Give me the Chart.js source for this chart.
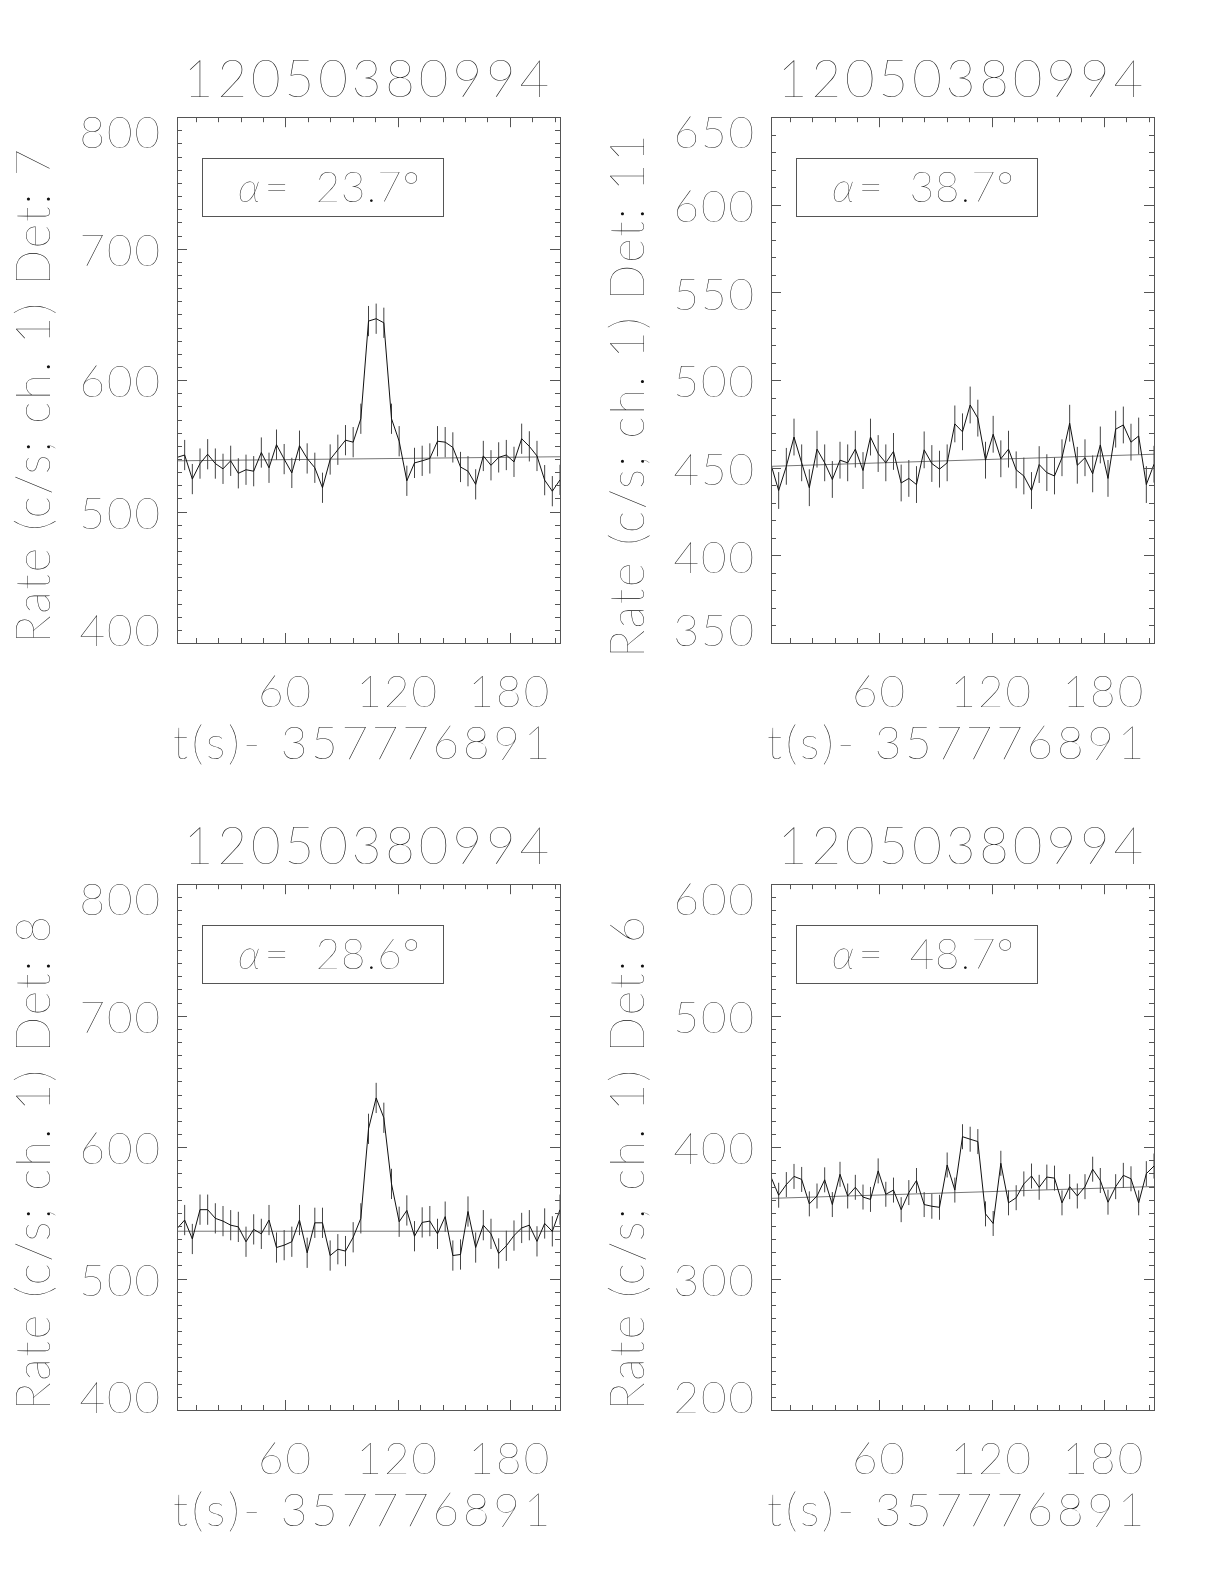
<!DOCTYPE html>
<html>
<head>
<meta charset="utf-8">
<script src="https://cdn.jsdelivr.net/npm/chart.js@4.4.1/dist/chart.umd.min.js"></script>
<style>
    body { margin: 0; background: #fff; width: 1224px; height: 1584px; position: relative; overflow: hidden; }
    canvas { position: absolute; }
</style>
</head>
<body>
<canvas id="c0" width="594" height="767" style="left:0;top:0"></canvas>
<canvas id="c1" width="594" height="767" style="left:594px;top:0"></canvas>
<canvas id="c2" width="594" height="767" style="left:0;top:767px"></canvas>
<canvas id="c3" width="594" height="767" style="left:594px;top:767px"></canvas>
<script>
// Data (t in s - 357776891, rates in c/s)
const burstName = '12050380994';
const xTitle = 't(s)- 357776891';
const detectors = [7, 11, 8, 6];
const alphaValues = ['23.7', '38.7', '28.6', '48.7'];

const times = [2.0, 6.1, 10.2, 14.3, 18.4, 22.5, 26.6, 30.7, 34.8, 38.9,
    43.0, 47.1, 51.2, 55.2, 59.3, 63.4, 67.5, 71.6, 75.7, 79.8,
    83.9, 88.0, 92.1, 96.2, 100.3, 104.4, 108.5, 112.6, 116.7, 120.8,
    124.9, 129.0, 133.1, 137.2, 141.3, 145.4, 149.5, 153.6, 157.6, 161.7,
    165.8, 169.9, 174.0, 178.1, 182.2, 186.3, 190.4, 194.5, 198.6, 202.7, 206.8];

const rateDet7 = [541.2, 543.0, 524.7, 536.5, 543.6, 536.5, 532.5, 538.6, 529.1, 531.8,
    530.7, 544.9, 533.3, 550.9, 539.9, 529.4, 550.1, 540.4, 533.3, 518.1,
    539.6, 547.0, 554.3, 552.8, 570.6, 644.9, 646.7, 643.6, 570.6, 553.5,
    523.4, 537.0, 538.6, 540.4, 553.5, 552.8, 548.8, 533.9, 530.7, 520.7,
    542.3, 535.2, 541.2, 543.0, 537.8, 555.4, 549.6, 542.3, 523.9, 515.5, 524.1];
const rateDet11 = [451.8, 437.0, 450.8, 467.5, 452.8, 438.6, 460.6, 452.8, 443.3, 454.3,
    452.8, 460.6, 448.4, 467.5, 458.1, 452.8, 459.3, 441.3, 443.9, 440.4,
    460.2, 452.4, 449.2, 452.8, 475.0, 470.5, 485.8, 478.3, 454.3, 469.1,
    455.1, 460.6, 448.8, 445.3, 437.0, 451.8, 447.2, 445.3, 455.7, 475.4,
    451.4, 455.7, 446.5, 463.0, 443.9, 472.0, 474.4, 464.6, 468.1, 440.4, 452.0];
const rateDet8 = [538.0, 544.5, 530.1, 552.4, 552.4, 545.8, 543.7, 540.6, 539.3, 528.0,
    537.4, 534.0, 544.5, 523.6, 525.4, 528.0, 544.5, 519.6, 542.4, 542.4,
    517.5, 522.3, 520.9, 531.4, 545.8, 613.9, 637.4, 622.3, 572.0, 543.2,
    551.8, 532.2, 542.7, 543.7, 534.0, 547.1, 517.5, 518.3, 551.0, 523.6,
    540.6, 534.0, 519.1, 524.9, 532.7, 538.5, 540.6, 528.3, 541.9, 535.9, 552.4];
const rateDet6 = [377.2, 363.4, 371.5, 377.7, 375.4, 356.8, 362.8, 375.1, 356.3, 379.3,
    362.8, 369.4, 362.0, 360.2, 381.9, 364.1, 367.3, 352.4, 365.4, 374.6,
    356.3, 355.0, 354.2, 386.4, 367.3, 407.9, 406.0, 404.2, 349.2, 341.9,
    387.7, 357.6, 361.5, 372.0, 378.0, 369.4, 377.2, 376.4, 357.6, 369.9,
    362.8, 369.9, 383.2, 374.6, 358.1, 369.9, 378.5, 375.9, 357.6, 379.8, 385.6];
const rates = [rateDet7, rateDet11, rateDet8, rateDet6];

// half length of the error bars
const errHalf = [11.5, 10.5, 11.5, 9.5];

// background fit, value at first and last time
const fitDet7 = [538.6, 541.7];
const fitDet11 = [450.8, 457.7];
const fitDet8 = [536.0, 536.0];
const fitDet6 = [361.0, 370.0];
const fits = [fitDet7, fitDet11, fitDet8, fitDet6];

// axis ticks
const xTickValues = [60, 120, 180];
const yTickValues = [
    [400, 500, 600, 700, 800],
    [350, 400, 450, 500, 550, 600, 650],
    [400, 500, 600, 700, 800],
    [200, 300, 400, 500, 600]
];
const xMinorStep = 12;
const yMinorStep = 10;

const FONT = "Lato, 'DejaVu Sans', sans-serif";
const TEXT_COLOR = '#111';

// wide Hershey-like spacing, picked by font size (px): [letter spacing, shift along text]
const SPACING = { 51: [4, 0], 47: [2, -15], 46: [3.7, -5], 44: [2, 0], 42: [1, 0] };

function patchText(ctx) {
    if (ctx._idlPatched) return;
    const fill = ctx.fillText;
    ctx.fillText = function (text, x, y, w) {
        const m = this.font.match(/(\d+(?:\.\d+)?)px/);
        const sp = SPACING[m ? Math.round(parseFloat(m[1])) : 0] || [2, 0];
        this.letterSpacing = sp[0] + 'px';
        x += sp[1];
        return w === undefined ? fill.call(this, text, x, y) : fill.call(this, text, x, y, w);
    };
    ctx._idlPatched = true;
}

// IDL-like frame: box, inward ticks on all sides, alpha label
const idlFrame = {
    id: 'idlFrame',
    beforeDraw(chart) {
        patchText(chart.ctx);
        // IDL keeps the end labels of the y axis inside the box
        const items = chart.scales.y.getLabelItems();
        if (!items._shifted) {
            items.forEach(it => { it.options.translation[1] += 3; });
            items[0].options.translation[1] -= 14;
            items[items.length - 1].options.translation[1] += 14;
            items._shifted = true;
        }
    },
    afterDraw(chart, args, opts) {
        const { ctx, chartArea: a, scales: { x, y } } = chart;
        ctx.save();
        ctx.strokeStyle = '#555';
        ctx.lineWidth = 1;
        ctx.strokeRect(Math.round(a.left) + 0.5, Math.round(a.top) + 0.5,
            Math.round(a.right - a.left), Math.round(a.bottom - a.top));

        ctx.beginPath();
        // x ticks
        const xMajor = opts.xMajor;
        const xStart = Math.ceil(x.min / xMinorStep);
        for (let i = xStart; i * xMinorStep <= x.max; i++) {
            const v = i * xMinorStep;
            const px = Math.round(x.getPixelForValue(v)) + 0.5;
            const len = (v % xMajor === 0) ? 10 : 5;
            ctx.moveTo(px, a.bottom); ctx.lineTo(px, a.bottom - len);
            ctx.moveTo(px, a.top); ctx.lineTo(px, a.top + len);
        }
        // y ticks
        const yMajor = opts.yMajor;
        const yStart = Math.ceil(y.min / yMinorStep);
        for (let i = yStart; i * yMinorStep <= y.max; i++) {
            const v = i * yMinorStep;
            const py = Math.round(y.getPixelForValue(v)) + 0.5;
            const len = (v % yMajor === 0) ? 10 : 5;
            ctx.moveTo(a.left, py); ctx.lineTo(a.left + len, py);
            ctx.moveTo(a.right, py); ctx.lineTo(a.right - len, py);
        }
        ctx.stroke();

        // alpha box
        const bx = Math.round(a.left) + 25, by = Math.round(a.top) + 41;
        ctx.strokeRect(bx + 0.5, by + 0.5, 241, 58);
        ctx.fillStyle = TEXT_COLOR;
        ctx.textBaseline = 'middle';
        ctx.textAlign = 'left';
        ctx.font = `italic 200 42px ${FONT}`;
        const ty = by + 30;
        let tx = bx + 36;
        ctx.fillText('α', tx, ty);
        tx += ctx.measureText('α').width + 3;
        ctx.font = `200 42px ${FONT}`;
        ctx.fillText('=  ' + opts.alpha + '°', tx, ty);
        ctx.restore();
    }
};

function makeChart(i) {
    const ticksY = yTickValues[i];
    const dataPts = times.map((t, k) => ({ x: t, y: rates[i][k] }));
    const errPts = [];
    times.forEach((t, k) => {
        errPts.push({ x: t, y: rates[i][k] - errHalf[i] });
        errPts.push({ x: t, y: rates[i][k] + errHalf[i] });
        errPts.push({ x: t, y: null });
    });
    const fitPts = [
        { x: times[0], y: fits[i][0] },
        { x: times[times.length - 1], y: fits[i][1] }
    ];

    return new Chart(document.getElementById('c' + i), {
        type: 'line',
        data: {
            datasets: [
                { data: dataPts, borderColor: '#111', borderWidth: 1, pointRadius: 0, tension: 0 },
                { data: errPts, borderColor: '#444', borderWidth: 1, pointRadius: 0, spanGaps: false },
                { data: fitPts, borderColor: '#777', borderWidth: 1, pointRadius: 0 }
            ]
        },
        options: {
            responsive: false,
            animation: false,
            events: [],
            layout: { padding: { left: 0, right: 34, top: 0, bottom: 0 } },
            scales: {
                x: {
                    type: 'linear',
                    min: times[0],
                    max: times[times.length - 1],
                    grid: { display: false, drawTicks: false },
                    border: { display: false },
                    afterBuildTicks: s => { s.ticks = xTickValues.map(v => ({ value: v })); },
                    afterFit: s => { s.height = 124; },
                    ticks: {
                        font: { family: FONT, size: 44, weight: 200 },
                        color: TEXT_COLOR, padding: 23, maxRotation: 0, autoSkip: false
                    },
                    title: {
                        display: true, text: xTitle, color: TEXT_COLOR,
                        font: { family: FONT, size: 46, weight: 200, lineHeight: 1 },
                        padding: { top: 0, bottom: 0 }
                    }
                },
                y: {
                    type: 'linear',
                    min: ticksY[0],
                    max: ticksY[ticksY.length - 1],
                    grid: { display: false, drawTicks: false },
                    border: { display: false },
                    afterBuildTicks: s => { s.ticks = ticksY.map(v => ({ value: v })); },
                    afterFit: s => { s.width = 177; },
                    ticks: {
                        font: { family: FONT, size: 44, weight: 200 },
                        color: TEXT_COLOR, padding: 15, autoSkip: false
                    },
                    title: {
                        display: true, text: 'Rate (c/s; ch. 1) Det: ' + detectors[i], color: TEXT_COLOR,
                        font: { family: FONT, size: 47, weight: 200 },
                        padding: { top: 7, bottom: 0 }
                    }
                }
            },
            plugins: {
                legend: { display: false },
                tooltip: { enabled: false },
                title: {
                    display: true, text: burstName, fullSize: false, color: TEXT_COLOR,
                    font: { family: FONT, size: 51, weight: 200 },
                    padding: { top: 50, bottom: 6 }
                },
                idlFrame: {
                    alpha: alphaValues[i],
                    xMajor: 60,
                    yMajor: ticksY[1] - ticksY[0]
                }
            }
        },
        plugins: [idlFrame]
    });
}

for (let i = 0; i < 4; i++) {
    makeChart(i);
}
</script>
</body>
</html>
